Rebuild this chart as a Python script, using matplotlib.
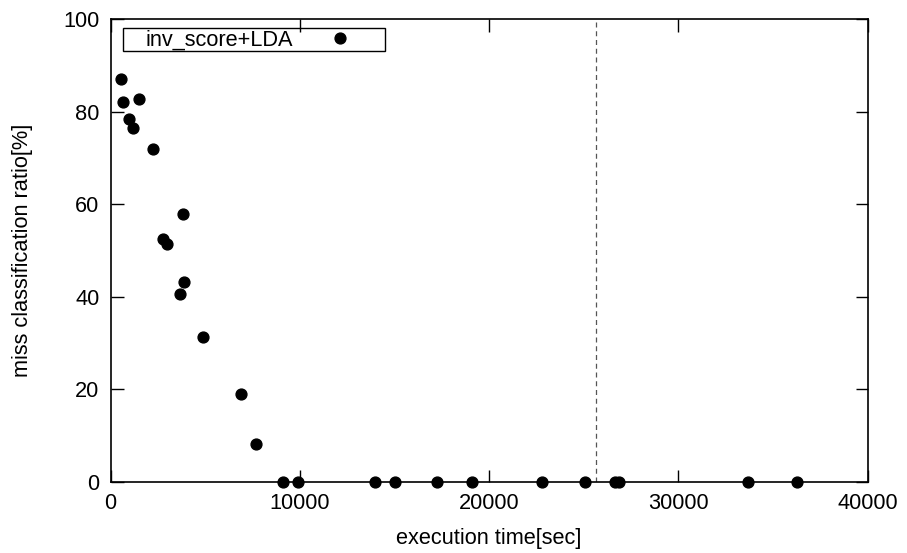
import matplotlib
matplotlib.use("Agg")
import matplotlib.pyplot as plt
from matplotlib.patches import Rectangle

# execution time [sec] vs miss classification ratio [%]
exec_time = [529, 666, 1496, 967, 1179, 2252, 3837, 2748, 2960, 3858, 3647,
             4894, 6903, 7664,
             9128, 9915, 13964, 15042, 17262, 19091, 22807, 25048, 26670,
             26876, 33684, 36279]
miss_ratio = [87.1, 82.1, 82.8, 78.3, 76.5, 71.8, 57.9, 52.4, 51.4, 43.1, 40.5,
              31.2, 19.0, 8.1,
              0, 0, 0, 0, 0, 0, 0, 0, 0,
              0, 0, 0]
limit_time = 25671

x_ticks = [0, 10000, 20000, 30000, 40000]
y_ticks = [0, 20, 40, 60, 80, 100]

plt.rcParams['font.family'] = ['Liberation Sans', 'DejaVu Sans']
plt.rcParams['font.size'] = 15.7

fig = plt.figure(figsize=(9.07, 5.53), dpi=100)
ax = fig.add_axes([0.122, 0.129, 0.8345, 0.8367])

ax.plot(exec_time, miss_ratio, 'o', color='black', markersize=7.8,
        label='inv_score+LDA', clip_on=False, zorder=3)
ax.axvline(limit_time, color='#555555', linestyle=(0, (4, 3)), linewidth=0.9)

ax.set_xlim(0, 40000)
ax.set_ylim(0, 100)
ax.set_xticks(x_ticks)
ax.set_yticks(y_ticks)
ax.tick_params(direction='in', length=9, width=1.0, top=True, right=True,
               labeltop=False, labelright=False, pad=8)
for s in ax.spines.values():
    s.set_linewidth(1.2)

ax.set_xlabel('execution time[sec]', labelpad=10)
ax.set_ylabel('miss classification ratio[%]', labelpad=22)

# gnuplot style key: text first, marker after, box around
leg = ax.legend(loc='center left', bbox_to_anchor=(0.0466, 0.9545),
                markerfirst=False, frameon=False, borderpad=0,
                handletextpad=0.8, handlelength=2.7, borderaxespad=0)
ax.add_patch(Rectangle((0.0167, 0.9315), 0.3458, 0.0485, transform=ax.transAxes,
                       fill=False, edgecolor='black', linewidth=1.0, zorder=4))

fig.savefig('out.png', dpi=100)
